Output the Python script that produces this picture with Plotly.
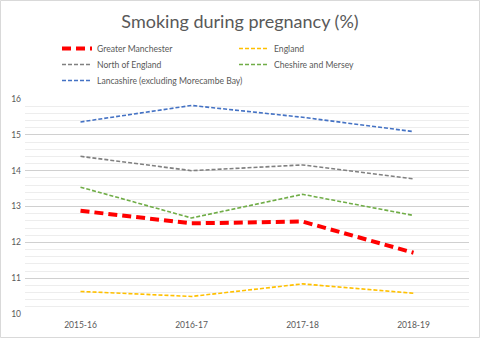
import plotly.graph_objects as go

years = ["2015-16", "2016-17", "2017-18", "2018-19"]
series_names = ["Greater Manchester", "England", "North of England",
                "Cheshire and Mersey", "Lancashire (excluding Morecambe Bay)"]
greater_manchester = [12.88, 12.53, 12.58, 11.71]
england = [10.63, 10.49, 10.84, 10.58]
north_of_england = [14.40, 14.00, 14.16, 13.77]
cheshire_mersey = [13.54, 12.68, 13.34, 12.75]
lancashire = [15.36, 15.82, 15.49, 15.09]

values = [greater_manchester, england, north_of_england, cheshire_mersey, lancashire]
colors = ["#FF0000", "#FFC000", "#808080", "#70AD47", "#4472C4"]
widths = [4, 1.6, 1.6, 1.6, 1.6]
dashes = ["9px,5px", "4px,2px", "4px,2px", "4px,2px", "4px,2px"]
legend_ids = ["legend", "legend", "legend2", "legend2", "legend3"]

FONT = "Lato"
fig = go.Figure()
for name, v, c, w, d, lg in zip(series_names, values, colors, widths, dashes, legend_ids):
    fig.add_trace(go.Scatter(x=years, y=v, name=name, mode="lines", legend=lg,
                             line=dict(color=c, width=w, dash=d)))

L, R, T, B = 25, 11, 99, 24
W, H = 480, 338
pw, ph = W - L - R, H - T - B


def legend_at(row_center, entry=132):
    d = dict(orientation="h", x=(57 - L) / pw, xanchor="left",
             y=(H - B - (row_center - 14)) / ph, yanchor="top",
             font=dict(size=8.6, color="#595959", family=FONT),
             itemwidth=30, bgcolor="rgba(0,0,0,0)", tracegroupgap=0)
    if entry:
        d.update(entrywidth=entry, entrywidthmode="pixels")
    return d


fig.update_layout(
    width=W, height=H,
    margin=dict(l=L, r=R, t=T, b=B, autoexpand=False),
    paper_bgcolor="white", plot_bgcolor="white",
    font=dict(family=FONT, color="#595959", size=9),
    title=dict(text="Smoking during pregnancy (%)", x=0.5, xanchor="center",
               y=1 - 22 / H, yanchor="middle", yref="container",
               font=dict(size=18, color="#595959", family=FONT)),
    showlegend=True,
    legend=legend_at(48),
    legend2=legend_at(64),
    legend3=legend_at(80, None),
    xaxis=dict(showgrid=False, zeroline=False, showline=False, ticks="",
               range=[-0.5, 3.5], ticklabelstandoff=4, automargin=False,
               tickfont=dict(size=8.5, color="#595959")),
    yaxis=dict(range=[10, 16], dtick=1, showgrid=True, gridcolor="#D0D0D0",
               gridwidth=1, zeroline=False, showline=False, ticks="",
               ticklabelstandoff=3, automargin=False,
               tickfont=dict(size=8.5, color="#595959"),
               minor=dict(dtick=0.2, showgrid=True, gridcolor="#EDEDED", gridwidth=1)),
    shapes=[dict(type="rect", xref="paper", yref="paper",
                 x0=(0.5 - L) / pw, x1=(W - 0.5 - L) / pw,
                 y0=(H - B - (H - 0.5)) / ph, y1=(H - B - 0.5) / ph,
                 line=dict(color="#D9D9D9", width=1), fillcolor="rgba(0,0,0,0)",
                 layer="below")],
)

fig.write_html("out.html")
